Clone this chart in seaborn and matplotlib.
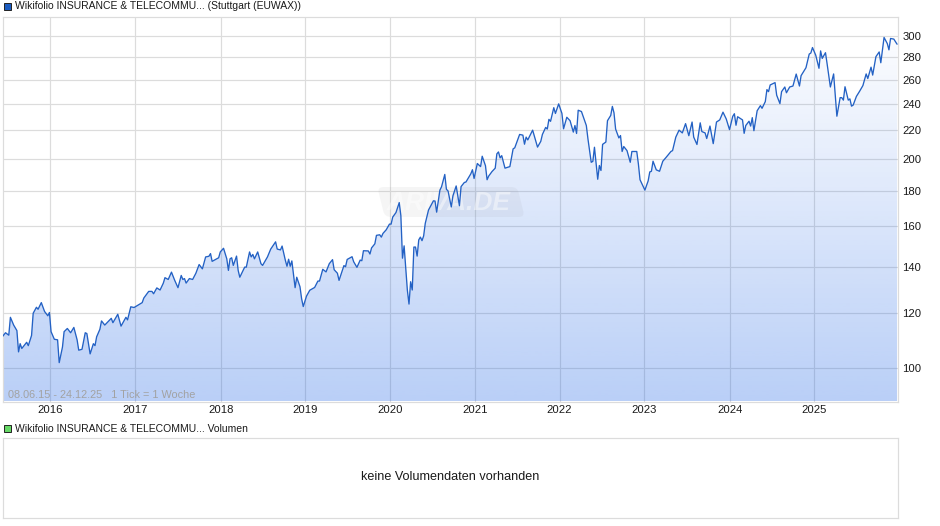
import numpy as np
import pandas as pd
import matplotlib
matplotlib.use("Agg")
import matplotlib.pyplot as plt
import matplotlib.dates as mdates
from matplotlib.patches import Rectangle, FancyBboxPatch
from matplotlib.ticker import NullLocator, FixedLocator, FixedFormatter
from matplotlib.transforms import Affine2D
import seaborn as sns

START_DATE = "2015-06-08"
TITLE_TOP = "Wikifolio INSURANCE & TELECOMMU... (Stuttgart (EUWAX))"
TITLE_VOL = "Wikifolio INSURANCE & TELECOMMU... Volumen"
INFO = "08.06.15 - 24.12.25   1 Tick = 1 Woche"
EMPTY = "keine Volumendaten vorhanden"
Y_TICKS = [100, 120, 140, 160, 180, 200, 220, 240, 260, 280, 300]
YEARS = [2016, 2017, 2018, 2019, 2020, 2021, 2022, 2023, 2024, 2025]
YEAR_GRID = ["2016-01-01", "2017-01-01", "2018-01-05", "2019-01-01", "2020-01-01",
             "2020-12-31", "2021-12-31", "2022-12-31", "2024-01-05", "2024-12-31"]

# weeks since start, price
weeks_a = [0,2,4,5,7,9,10,11,12,15,16,18,19,21,22,24,26,28,29,30,32,34,35,37,38,40,42,44,46,47,49,51,52,54,56,57,58,60,
           61,63,67,68,71,73,76,77,79,81,86,87,90,92,93,95,97,99,100,102,104,106,108,110,111,112,113,115,117,119,121,123,125,127,128,129]
price_a = [111,112.5,111.6,118.4,115.4,113.3,105.6,108.5,106.8,109,107.8,111.5,120,122.4,121.6,124.3,120.7,119,120.3,112.9,110.1,109.9,101.9,107.3,112.9,114.1,112.5,114.5,109.9,106.2,106.5,112.5,112.2,104.9,108.5,107.8,111,113.8,
           117,115.4,118,116.3,119.6,115,118.4,117.4,122.6,122.3,124.3,126.2,129,129,128,130.5,129.6,132.6,135,134.2,137.5,133.8,130.6,136,134.2,134.6,132.6,134.6,134.2,137,141,139,144.6,144.9,146.2,142.5]

weeks_b = [133,134,136,138,139,140,141,142,144,145,146,149,150,152,153,154,155,157,159,160,163,165,168,169,171,172,174,175,176,177,178,180,181,183,184,185,187,189,192,194,195,197,199,201,203,204,206,207,
           210,211,212,215,216,218,220,221,222,225,226,227,229,230,232,233,234,236,238,239,240,242,244]
price_b = [144.2,147,148.8,143.7,138.3,143.7,144.2,140.6,145,138.3,135.2,139.8,139.8,147,144.6,145.8,143.7,147,141.4,140.6,144.6,148.4,152,148.4,148,149.9,143,140.2,143.5,140.2,142.7,130.6,135.2,131,125.9,122.7,127,129.5,130.7,133.5,133.5,138.8,137.6,141.4,143.3,138.6,137,133.8,
           140.5,140,143.4,144.7,142.3,139.7,143.1,142.8,147.6,147.5,146,149,151,155.3,155.6,154.4,156.3,158.2,161.2,161.2,165,167.5,173.1]

weeks_c = [245,246,247,249,250,251,252,253,254,255,256,257,258,259,260,262,265,266,267,269,270,272,273,274,276,277,279,281,282,284,285,288,289,290,292,294,295,297,298,299,301,303,304,305,306,307,309,312,314,315,318,320,321,322,323,326,329,331,332,334,335,336,337,339,340,342,344,345,347,349,351,352,353,354,356,359,360,362,363,364,366,367,368,369,371,372,374,375,376,377]
price_c = [165.8,144,150,129.5,123.7,133.2,129.6,149.4,149.4,145,153,154.4,152.6,155,161.6,168.9,174.1,174,167.7,180.4,182.4,190,180.9,179.9,170.6,177,182.9,171.3,182.5,185,185.3,190.4,193,187.5,197,195,201.8,195.6,186.7,189,191.8,194,203.4,204.7,200.7,202.2,194,195,206.8,207.5,216.9,216.4,210,215,213,220,208,212,216.9,222,220.8,228,226.5,237,232.5,240,232.5,221,229.6,227,218.6,223.4,217.6,235,234,223.4,213.7,197.8,198.4,207.9,187,195.7,192.5,209.9,211.5,227,231,238,233,220.8]

weeks_d = [379,380,381,382,384,386,387,390,391,392,395,397,398,399,400,402,404,406,408,411,412,414,416,418,420,422,424,425,427,429,430,432,433,435,437,439,441,443,445,447,449,450,451,452,455,456,457,459,460,461,462,464,466,467,469,470,471,472,475,476,478,479,481,482,484,486,488,490,491,494,496,497,498,500,502,503,504,506,507,509,511,513,515,516,517,518,520,521,522,523,525,527,529,531,532,534,535,537,539,540,542,544,545,546,548,550]
price_d = [214.4,216.1,205,208.4,205.6,197.8,205,205,196.7,186.7,180.4,186,191.6,192,198.5,192.9,192,198.5,201,205,205.6,215,220,218,224.8,216,226,215,209.8,225.4,219,218,214,223,210.4,226,227.6,233.5,228.3,220.4,230.3,232.3,223.6,230,227.6,217.7,223.4,226.6,223,229.3,219.6,234.6,238.6,236.5,241.8,251.6,249.9,255.5,257.5,247,240.2,249.9,253.8,249,253.8,254.6,264.9,254.6,263.5,270.5,283,284,289.2,282,270,286,279,284.3,274,253.8,265,230.4,245,245,243,254,243,244,238.2,239,246,250.3,255,265,261,271,264,280.6,285,275,299,293,287,298,297.4,292.4]

W, H = 940, 526
LINE = "#2361c4"
GRID = "#dcdcdc"
TEXT = "#1a1a1a"
FONT = "Liberation Sans"

sns.set_theme(style="white")
plt.rcParams["font.family"] = [FONT, "DejaVu Sans"]

df = pd.DataFrame({"week": weeks_a + weeks_b + weeks_c + weeks_d,
                   "price": price_a + price_b + price_c + price_d})
df["date"] = pd.Timestamp(START_DATE) + pd.to_timedelta(df["week"] * 7, unit="D")

fig = plt.figure(figsize=(W / 100, H / 100), dpi=100, facecolor="white")


def pix_axes(x0, y0, x1, y1):
    return fig.add_axes([x0 / W, 1 - y1 / H, (x1 - x0) / W, (y1 - y0) / H])


XMIN, XMAX = pd.Timestamp("2015-06-09"), pd.Timestamp("2025-12-26")
YMIN, YMAX = 89.6, 320.5

ax = pix_axes(2.5, 16.5, 898, 401.5)
ax.set_yscale("log")
ax.set_xlim(XMIN, XMAX)
ax.set_ylim(YMIN, YMAX)

sns.lineplot(data=df, x="date", y="price", ax=ax, color=LINE, linewidth=0.95, zorder=5, estimator=None)
ax.set_xlabel("")
ax.set_ylabel("")

# grid under the translucent gradient
ax.set_axisbelow(True)
ax.grid(True, which="major", color=GRID, linewidth=0.85)
ax.xaxis.set_major_locator(FixedLocator(mdates.date2num(pd.to_datetime(YEAR_GRID))))
ax.xaxis.set_major_formatter(FixedFormatter([str(y) for y in YEARS]))
ax.yaxis.set_major_locator(FixedLocator(Y_TICKS))
ax.yaxis.set_major_formatter(FixedFormatter([str(v) for v in Y_TICKS]))
ax.yaxis.set_minor_locator(NullLocator())
ax.xaxis.set_minor_locator(NullLocator())
ax.yaxis.tick_right()
ax.tick_params(axis="both", length=0, labelsize=8.1, labelcolor=TEXT)
ax.tick_params(axis="y", pad=3)
ax.tick_params(axis="x", pad=2.5)
for s in ax.spines.values():
    s.set_color(GRID)
    s.set_linewidth(0.85)

# vertical gradient fill below the line
poly = ax.fill_between(df["date"], df["price"], 80, color="none", linewidth=0)
grad = np.zeros((256, 1, 4))
grad[..., 0] = 30 / 255
grad[..., 1] = 100 / 255
grad[..., 2] = 230 / 255
grad[..., 3] = np.linspace(0.0, 0.31, 256)[:, None]
im = ax.imshow(grad, extent=[0, 1, 0, 1], transform=ax.transAxes, origin="upper",
               aspect="auto", zorder=2, interpolation="bilinear")
im.set_clip_path(poly.get_paths()[0], transform=ax.transData)
ax.set_xlim(XMIN, XMAX)
ax.set_ylim(YMIN, YMAX)

# watermark
skew = Affine2D().translate(-451, -202).skew_deg(14, 0).translate(451, 202)
fig_px = Affine2D().scale(1 / W, -1 / H).translate(0, 1) + fig.transFigure
badge = FancyBboxPatch((381, 187), 140, 30, boxstyle="round,pad=0,rounding_size=6",
                       transform=skew + fig_px, facecolor="#8a8a8a", alpha=0.08,
                       edgecolor="none", zorder=3)
ax.add_patch(badge)
badge.set_clip_on(False)
ax.text(449, 203, "ARIVA.DE", transform=fig_px, ha="center", va="center", fontsize=19,
        fontstyle="italic", fontweight="bold", color="white", alpha=0.45, zorder=4)

ax.text(8, 395, INFO, transform=fig_px, ha="left", va="center", fontsize=7.8,
        color="#a2a2a2", zorder=6)

# legend keys and headings
for top, col in ((2, "#1b5cc0"), (424, "#66d866")):
    fig.add_artist(Rectangle((3.5, top + 0.5), 7, 7, transform=fig_px, facecolor=col,
                             edgecolor="#222222", linewidth=0.7))
fig.text(15 / W, 1 - 6 / H, TITLE_TOP, ha="left", va="center", fontsize=7.45, color=TEXT)
fig.text(15 / W, 1 - 428.5 / H, TITLE_VOL, ha="left", va="center", fontsize=7.45, color=TEXT)

# empty volume panel
ax2 = pix_axes(2.5, 437.5, 898, 517.5)
ax2.set_xticks([])
ax2.set_yticks([])
for s in ax2.spines.values():
    s.set_color(GRID)
    s.set_linewidth(0.85)
ax2.text(0.5, 0.5, EMPTY, transform=ax2.transAxes, ha="center", va="center",
         fontsize=9.1, color=TEXT)

fig.savefig("out.png", dpi=100)
